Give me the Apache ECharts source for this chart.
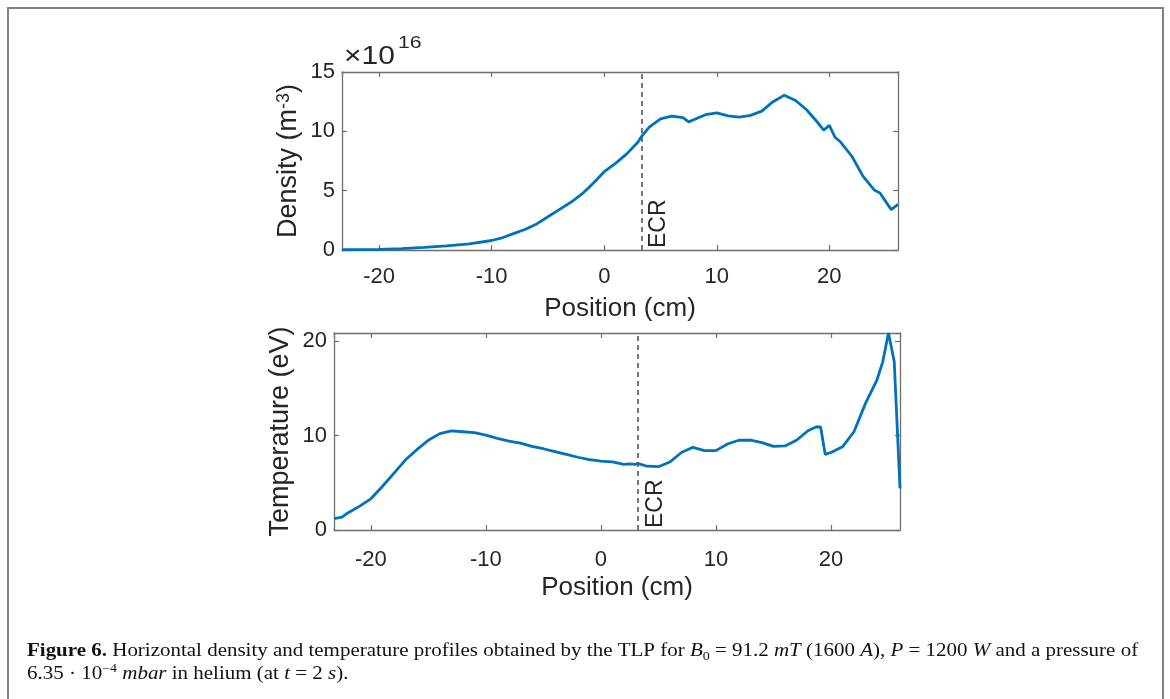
<!DOCTYPE html>
<html>
<head>
<meta charset="utf-8">
<script src="https://cdn.jsdelivr.net/npm/echarts@6/dist/echarts.min.js"></script>
<style>
html,body{margin:0;padding:0;background:#fff;}
#c{width:1170px;height:699px;}
</style>
</head>
<body>
<div id="c"></div>
<script>
// ---- Data ----
const densityPos = [-23.3,-22,-20,-18,-16,-14,-12,-10,-9,-8,-7,-6,-5,-4,-3,-2,-1,0,1,2,3,3.3,4,5,6,7,7.5,8,9,10,11,12,13,14,15,16,17,18,19,19.5,20,20.5,21,22,23,24,24.5,25,25.5,26.1];
const densityVal = [0.02,0.03,0.06,0.12,0.22,0.35,0.52,0.8,1.05,1.4,1.75,2.2,2.8,3.4,4.0,4.7,5.6,6.6,7.3,8.1,9.1,9.55,10.35,11.05,11.28,11.15,10.8,11.0,11.4,11.55,11.3,11.2,11.35,11.7,12.5,13.05,12.6,11.8,10.7,10.1,10.5,9.5,9.1,7.9,6.2,5.05,4.8,4.1,3.4,3.85];
const tempPos = [-23.2,-22.5,-22,-21,-20,-19,-18,-17,-16,-15,-14,-13,-12,-11,-10,-9,-8,-7,-6,-5,-4,-3,-2,-1,0,1,2,2.5,3,3.2,4,5,6,7,8,9,10,11,12,13,14,15,16,17,18,18.7,19.1,19.5,20,21,22,23,24,24.5,25,25.5,26.0];
const tempVal = [1.2,1.35,1.8,2.5,3.3,4.6,6.0,7.4,8.5,9.5,10.2,10.5,10.4,10.3,10.05,9.7,9.4,9.2,8.85,8.6,8.3,8.0,7.7,7.45,7.3,7.2,6.95,7.0,6.95,7.05,6.75,6.7,7.2,8.2,8.75,8.4,8.4,9.1,9.5,9.5,9.25,8.85,8.9,9.5,10.5,10.9,10.9,8.0,8.2,8.8,10.4,13.4,15.9,17.8,20.85,17.8,4.4];
const ecrDensity = 3.3;
const ecrTemp = 3.2;
const xLabel = 'Position (cm)';
const densityLabel = '{n|Density (m}{s|-3}{n|)}';
const tempLabel = 'Temperature (eV)';
const ecrLabel = 'ECR';

const FONT = '"Liberation Sans", Arial, Helvetica, sans-serif';
const SERIF = '"Liberation Serif", "Times New Roman", serif';
const axisColor = '#6e6e6e';
const textColor = '#262626';
const lineColor = '#0072BD';

function pairs(xs, ys){ return xs.map((x,i)=>[x, ys[i]]); }

function xAxes(gi, min, max, nameGap, margin){
  return [{
    type:'value', gridIndex:gi, min:min, max:max, splitNumber:5,
    position:'bottom',
    name: xLabel, nameLocation:'middle', nameGap:nameGap,
    nameTextStyle:{fontFamily:FONT,fontSize:26,color:textColor},
    axisLine:{show:true,onZero:false,lineStyle:{color:axisColor,width:1.3}},
    axisTick:{show:true,inside:true,length:5,lineStyle:{color:axisColor,width:1.2}},
    axisLabel:{fontFamily:FONT,fontSize:22,color:textColor,margin:margin,showMinLabel:false,showMaxLabel:false,
      formatter:v=> (Math.abs(v%10)<1e-6 ? String(v) : '')},
    splitLine:{show:false}
  },{
    type:'value', gridIndex:gi, min:min, max:max, splitNumber:5,
    position:'top',
    axisLine:{show:true,onZero:false,lineStyle:{color:axisColor,width:1.3}},
    axisTick:{show:true,inside:true,length:5,lineStyle:{color:axisColor,width:1.2}},
    axisLabel:{show:false},
    splitLine:{show:false}
  }];
}
function yAxes(gi, min, max, interval, name, nameGap){
  return [{
    type:'value', gridIndex:gi, min:min, max:max, interval:interval,
    position:'left',
    name:name, nameLocation:'middle', nameGap:nameGap, nameRotate:90,
    nameTextStyle:{fontFamily:FONT,fontSize:27,color:textColor,
      rich:{n:{fontFamily:FONT,fontSize:27,color:textColor},
            s:{fontFamily:FONT,fontSize:18,color:textColor,verticalAlign:'top'}}},
    axisLine:{show:true,onZero:false,lineStyle:{color:axisColor,width:1.3}},
    axisTick:{show:true,inside:true,length:5,lineStyle:{color:axisColor,width:1.2}},
    axisLabel:{fontFamily:FONT,fontSize:22,color:textColor,margin:7,showMaxLabel:(max%interval===0)},
    splitLine:{show:false}
  },{
    type:'value', gridIndex:gi, min:min, max:max, interval:interval,
    position:'right',
    axisLine:{show:true,onZero:false,lineStyle:{color:axisColor,width:1.3}},
    axisTick:{show:true,inside:true,length:5,lineStyle:{color:axisColor,width:1.2}},
    axisLabel:{show:false},
    splitLine:{show:false}
  }];
}
function ecrMark(x){
  return {
    silent:true, symbol:['none','none'],
    lineStyle:{color:'#555',type:[5,4],width:1.6},
    label:{show:true,formatter:ecrLabel,position:'insideStartBottom',fontFamily:FONT,fontSize:23,color:textColor,distance:[2,6]},
    data:[{xAxis:x}]
  };
}

const chart = echarts.init(document.getElementById('c'), null, {renderer:'canvas'});
const option = {
  animation:false,
  backgroundColor:'#fff',
  grid:[
    {left:342, top:72, width:556, height:178},
    {left:334, top:333, width:566, height:197}
  ],
  xAxis:[].concat(xAxes(0,-23.3,26.1,46,16), xAxes(1,-23.2,26.0,45,19)),
  yAxis:[].concat(
    yAxes(0,0,15,5,densityLabel,40),
    yAxes(1,0,20.85,10,tempLabel,40)
  ),
  series:[
    {type:'line', xAxisIndex:0, yAxisIndex:0, data:pairs(densityPos,densityVal),
     showSymbol:false, lineStyle:{color:lineColor,width:2.8}, itemStyle:{color:lineColor},
     markLine:ecrMark(ecrDensity), z:3},
    {type:'line', xAxisIndex:2, yAxisIndex:2, data:pairs(tempPos,tempVal),
     showSymbol:false, lineStyle:{color:lineColor,width:2.8}, itemStyle:{color:lineColor},
     markLine:ecrMark(ecrTemp), z:3}
  ],
  graphic:[
    {type:'rect', shape:{x:8,y:8,width:1155,height:720}, style:{fill:'none',stroke:'#808080',lineWidth:2}, silent:true},
    {type:'text', x:344, y:45, scaleX:1.2, style:{text:'×10', fontFamily:FONT, fontSize:25, fill:textColor, verticalAlign:'top'}},
    {type:'text', x:398, y:35, scaleX:1.25, style:{text:'16', fontFamily:FONT, fontSize:17, fill:textColor, verticalAlign:'top'}},
    {type:'text', x:27, y:640, scaleX:1.165, style:{
      text:'{b|Figure 6.} Horizontal density and temperature profiles obtained by the TLP for {i|B}{sub|0} = 91.2 {i|mT} (1600 {i|A}), {i|P} = 1200 {i|W} and a pressure of\n6.35 · 10{sup|−4} {i|mbar} in helium (at {i|t} = 2 {i|s}).',
      fontFamily:SERIF, fontSize:18, fill:'#111', lineHeight:23, verticalAlign:'top',
      rich:{
        b:{fontFamily:SERIF,fontSize:18,fontWeight:'bold',fill:'#111'},
        i:{fontFamily:SERIF,fontSize:18,fontStyle:'italic',fill:'#111'},
        sub:{fontFamily:SERIF,fontSize:12,fill:'#111',verticalAlign:'bottom'},
        sup:{fontFamily:SERIF,fontSize:12,fill:'#111',verticalAlign:'top'}
      }
    }}
  ]
};
chart.setOption(option);
</script>
</body>
</html>
